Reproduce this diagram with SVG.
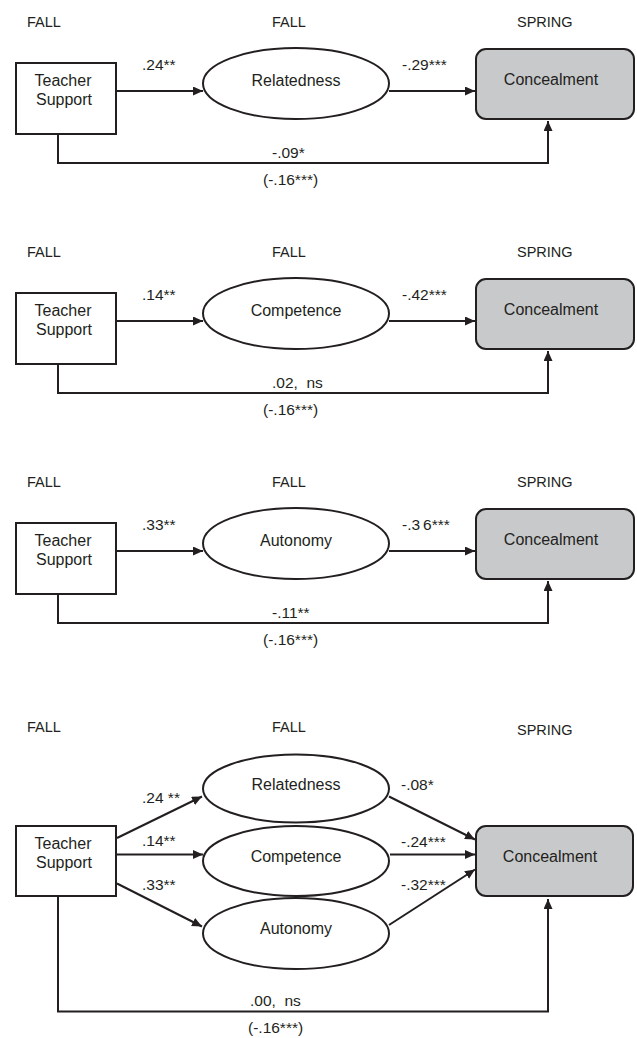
<svg xmlns="http://www.w3.org/2000/svg" width="637" height="1038" viewBox="0 0 637 1038">
  <style>
    text { font-family: "Liberation Sans", Arial, sans-serif; fill: #231f20; }
    .hdr { font-size: 14.5px; }
    .lbl { font-size: 16px; text-anchor: middle; }
    .coef { font-size: 15.5px; }
    .box { fill: #ffffff; stroke: #231f20; stroke-width: 2; }
    .outcome { fill: #c8c9cb; stroke: #231f20; stroke-width: 2; }
    .latent { fill: #ffffff; stroke: #231f20; stroke-width: 2; }
    .edge { fill: none; stroke: #231f20; stroke-width: 2; marker-end: url(#arrow); }
  </style>
  <defs>
    <marker id="arrow" markerUnits="userSpaceOnUse" markerWidth="11" markerHeight="10" refX="10" refY="4.5" orient="auto">
      <path d="M0,0 L10,4.5 L0,9 z" fill="#231f20"/>
    </marker>
  </defs>

  <!-- Model 1: relatedness as mediator -->
  <g id="model-relatedness">
    <text class="hdr" x="27" y="27">FALL</text>
    <text class="hdr" x="272" y="27">FALL</text>
    <text class="hdr" x="517" y="27">SPRING</text>
    <g id="m1-connectors">
      <line class="edge" x1="117" y1="91" x2="203" y2="91"/>
      <line class="edge" x1="389" y1="91" x2="475" y2="91"/>
      <path class="edge" d="M58,135 V163 H548 V121"/>
      <text class="coef" x="142" y="70">.24**</text>
      <text class="coef" x="402" y="70">-.29***</text>
      <text class="coef" x="272" y="158">-.09*</text>
      <text class="coef" x="263" y="185">(-.16***)</text>
    </g>
    <g id="m1-teacher-support">
      <rect class="box" x="16" y="63" width="100" height="71"/>
      <text class="lbl" x="63" y="86">Teacher</text>
      <text class="lbl" x="64" y="105">Support</text>
    </g>
    <g id="m1-relatedness">
      <ellipse class="latent" cx="296" cy="83.5" rx="93" ry="35.5"/>
      <text class="lbl" x="296" y="86">Relatedness</text>
    </g>
    <g id="m1-concealment">
      <rect class="outcome" x="476" y="49" width="158" height="70" rx="10"/>
      <text class="lbl" x="551" y="85">Concealment</text>
    </g>
  </g>

  <!-- Model 2: competence as mediator -->
  <g id="model-competence" transform="translate(0,230)">
    <text class="hdr" x="27" y="27">FALL</text>
    <text class="hdr" x="272" y="27">FALL</text>
    <text class="hdr" x="517" y="27">SPRING</text>
    <g id="m2-connectors">
      <line class="edge" x1="117" y1="91" x2="203" y2="91"/>
      <line class="edge" x1="389" y1="91" x2="475" y2="91"/>
      <path class="edge" d="M58,135 V163 H548 V121"/>
      <text class="coef" x="142" y="70">.14**</text>
      <text class="coef" x="402" y="70">-.42***</text>
      <text class="coef" x="272" y="158" xml:space="preserve">.02,  ns</text>
      <text class="coef" x="263" y="185">(-.16***)</text>
    </g>
    <g id="m2-teacher-support">
      <rect class="box" x="16" y="63" width="100" height="71"/>
      <text class="lbl" x="63" y="86">Teacher</text>
      <text class="lbl" x="64" y="105">Support</text>
    </g>
    <g id="m2-competence">
      <ellipse class="latent" cx="296" cy="83.5" rx="93" ry="35.5"/>
      <text class="lbl" x="296" y="86">Competence</text>
    </g>
    <g id="m2-concealment">
      <rect class="outcome" x="476" y="49" width="158" height="70" rx="10"/>
      <text class="lbl" x="551" y="85">Concealment</text>
    </g>
  </g>

  <!-- Model 3: autonomy as mediator -->
  <g id="model-autonomy" transform="translate(0,460)">
    <text class="hdr" x="27" y="27">FALL</text>
    <text class="hdr" x="272" y="27">FALL</text>
    <text class="hdr" x="517" y="27">SPRING</text>
    <g id="m3-connectors">
      <line class="edge" x1="117" y1="91" x2="203" y2="91"/>
      <line class="edge" x1="389" y1="91" x2="475" y2="91"/>
      <path class="edge" d="M58,135 V163 H548 V121"/>
      <text class="coef" x="142" y="70">.33**</text>
      <text class="coef" x="402" y="70">-.3<tspan dx="3">6***</tspan></text>
      <text class="coef" x="272" y="158">-.11**</text>
      <text class="coef" x="263" y="185">(-.16***)</text>
    </g>
    <g id="m3-teacher-support">
      <rect class="box" x="16" y="63" width="100" height="71"/>
      <text class="lbl" x="63" y="86">Teacher</text>
      <text class="lbl" x="64" y="105">Support</text>
    </g>
    <g id="m3-autonomy">
      <ellipse class="latent" cx="296" cy="83.5" rx="93" ry="35.5"/>
      <text class="lbl" x="296" y="86">Autonomy</text>
    </g>
    <g id="m3-concealment">
      <rect class="outcome" x="476" y="49" width="158" height="70" rx="10"/>
      <text class="lbl" x="551" y="85">Concealment</text>
    </g>
  </g>

  <!-- Model 4: all three mediators together -->
  <g id="model-combined">
    <text class="hdr" x="27" y="732">FALL</text>
    <text class="hdr" x="272" y="732">FALL</text>
    <text class="hdr" x="517" y="735">SPRING</text>
    <g id="m4-connectors">
      <line class="edge" x1="117" y1="838" x2="202" y2="796.5"/>
      <line class="edge" x1="117" y1="854.5" x2="203" y2="854.5"/>
      <line class="edge" x1="117" y1="883.5" x2="202" y2="926.5"/>
      <line class="edge" x1="389" y1="796.5" x2="475" y2="839.5"/>
      <line class="edge" x1="390" y1="854.5" x2="475" y2="854.5"/>
      <line class="edge" x1="389" y1="925" x2="475" y2="869.5"/>
      <path class="edge" d="M58,897 V1011.5 H548 V899"/>
      <text class="coef" x="142" y="803" xml:space="preserve">.24 **</text>
      <text class="coef" x="142" y="846">.14**</text>
      <text class="coef" x="142" y="890">.33**</text>
      <text class="coef" x="401" y="790">-.08*</text>
      <text class="coef" x="401" y="846.5">-.24***</text>
      <text class="coef" x="401" y="889.5">-.32***</text>
      <text class="coef" x="250" y="1005.5" xml:space="preserve">.00,  ns</text>
      <text class="coef" x="248" y="1033">(-.16***)</text>
    </g>
    <g id="m4-teacher-support">
      <rect class="box" x="16" y="826" width="100" height="70"/>
      <text class="lbl" x="63" y="849">Teacher</text>
      <text class="lbl" x="64" y="868">Support</text>
    </g>
    <g id="m4-relatedness">
      <ellipse class="latent" cx="296" cy="788.5" rx="93" ry="34"/>
      <text class="lbl" x="296" y="790">Relatedness</text>
    </g>
    <g id="m4-competence">
      <ellipse class="latent" cx="296" cy="861" rx="93" ry="35"/>
      <text class="lbl" x="296" y="862">Competence</text>
    </g>
    <g id="m4-autonomy">
      <ellipse class="latent" cx="296" cy="933.5" rx="93" ry="35.5"/>
      <text class="lbl" x="296" y="934">Autonomy</text>
    </g>
    <g id="m4-concealment">
      <rect class="outcome" x="476" y="826" width="157" height="70" rx="10"/>
      <text class="lbl" x="550" y="862">Concealment</text>
    </g>
  </g>
</svg>
